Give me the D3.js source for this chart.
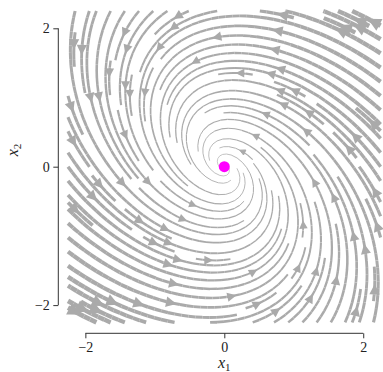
<!DOCTYPE html>
<html>
<head>
<meta charset="utf-8">
<script src="https://cdn.jsdelivr.net/npm/d3@7"></script>
<style>
  body { margin: 0; background: #fff; }
  svg { display: block; }
  text { font-family: "Liberation Serif", "DejaVu Serif", serif; fill: #222; }
</style>
</head>
<body>
<svg id="chart" width="383" height="372"></svg>
<script>
// linear system x' = A x, one array per row of A
const rowX1 = [-0.72, -0.95];
const rowX2 = [1.0, -0.1];
const gridRange = [-2.25, 2.25];   // extent of the sampled field
const xTicks = [-2, 0, 2];
const yTicks = [-2, 0, 2];
const equilibrium = [0, 0];

const gridN = 100;
const density = 1.5;
const lwMin = 0.5, lwMax = 5;
const minlength = 0.1, maxlength = 4.0;

const svg = d3.select('#chart');

const x = d3.scaleLinear().domain(gridRange).range([68, 380.6]);
const y = d3.scaleLinear().domain(gridRange).range([322.4, 11]);

// ---- sample the vector field on a regular grid
const nx = gridN, ny = gridN;
const gx = d3.range(nx).map(i => gridRange[0] + i * (gridRange[1] - gridRange[0]) / (nx - 1));
const gy = d3.range(ny).map(j => gridRange[0] + j * (gridRange[1] - gridRange[0]) / (ny - 1));
const dxg = gx[1] - gx[0], dyg = gy[1] - gy[0];

const UG = new Float64Array(nx * ny), VG = new Float64Array(nx * ny);
const SP = new Float64Array(nx * ny), LW = new Float64Array(nx * ny);
const speedData = new Float64Array(nx * ny);
for (let j = 0; j < ny; j++) {
  for (let i = 0; i < nx; i++) {
    const k = j * nx + i;
    const u = rowX1[0] * gx[i] + rowX1[1] * gy[j];
    const v = rowX2[0] * gx[i] + rowX2[1] * gy[j];
    speedData[k] = Math.hypot(u, v);
    UG[k] = u / dxg;
    VG[k] = v / dyg;
    SP[k] = Math.hypot(UG[k] / (nx - 1), VG[k] / (ny - 1));
  }
}
const maxSpeed = d3.max(speedData);
for (let k = 0; k < LW.length; k++) LW[k] = lwMin + (lwMax - lwMin) * speedData[k] / maxSpeed;

function interp(a, xi, yi) {
  const ix = Math.floor(xi), iy = Math.floor(yi);
  const xn = ix === nx - 1 ? ix : ix + 1;
  const yn = iy === ny - 1 ? iy : iy + 1;
  const xt = xi - ix, yt = yi - iy;
  const a0 = a[iy * nx + ix] * (1 - xt) + a[iy * nx + xn] * xt;
  const a1 = a[yn * nx + ix] * (1 - xt) + a[yn * nx + xn] * xt;
  return a0 * (1 - yt) + a1 * yt;
}

// ---- streamplot (same scheme as matplotlib)
const maskN = Math.floor(30 * density);
const g2m = (maskN - 1) / (nx - 1);
const mask = new Uint8Array(maskN * maskN);
let traj = [], cur = null;
const OUT = {}, TERM = {}, INVALID = {};

const pyRound = v => (Math.abs(v - Math.floor(v) - 0.5) < 1e-12) ? 2 * Math.round(v / 2) : Math.round(v);
const grid2mask = (xg, yg) => [pyRound(xg * g2m), pyRound(yg * g2m)];
const within = (xi, yi) => xi >= 0 && xi <= nx - 1 && yi >= 0 && yi <= ny - 1;

function markCell(xm, ym) {
  if (cur && cur[0] === xm && cur[1] === ym) return;
  if (mask[ym * maskN + xm] === 0) {
    traj.push(ym * maskN + xm);
    mask[ym * maskN + xm] = 1;
    cur = [xm, ym];
  } else throw INVALID;
}
function updateTrajectory(xg, yg) {
  if (!within(xg, yg)) throw INVALID;
  const [xm, ym] = grid2mask(xg, yg);
  markCell(xm, ym);
}

function forward(xi, yi) {
  if (!within(xi, yi)) throw OUT;
  const dsdt = interp(SP, xi, yi);
  if (dsdt === 0) throw TERM;
  return [interp(UG, xi, yi) / dsdt, interp(VG, xi, yi) / dsdt];
}
function backward(xi, yi) {
  const d = forward(xi, yi);
  return [-d[0], -d[1]];
}

function eulerStep(pts, f) {
  const [xi, yi] = pts[pts.length - 1];
  const [cx, cy] = f(xi, yi);
  const dsx = cx === 0 ? Infinity : cx < 0 ? xi / -cx : (nx - 1 - xi) / cx;
  const dsy = cy === 0 ? Infinity : cy < 0 ? yi / -cy : (ny - 1 - yi) / cy;
  const ds = Math.min(dsx, dsy);
  pts.push([xi + cx * ds, yi + cy * ds]);
  return ds;
}

function rk12(x0, y0, f) {
  const maxerror = 0.003;
  const maxds = Math.min(1 / maskN, 0.1);
  let ds = maxds, stotal = 0, xi = x0, yi = y0;
  const pts = [];
  while (true) {
    let k1, k2;
    try {
      if (within(xi, yi)) pts.push([xi, yi]); else throw OUT;
      k1 = f(xi, yi);
      k2 = f(xi + ds * k1[0], yi + ds * k1[1]);
    } catch (e) {
      if (e === OUT && pts.length) stotal += eulerStep(pts, f);
      break;
    }
    const dx1 = ds * k1[0], dy1 = ds * k1[1];
    const dx2 = ds * 0.5 * (k1[0] + k2[0]), dy2 = ds * 0.5 * (k1[1] + k2[1]);
    const err = Math.hypot((dx2 - dx1) / (nx - 1), (dy2 - dy1) / (ny - 1));
    if (err < maxerror) {
      xi += dx2; yi += dy2;
      try { updateTrajectory(xi, yi); } catch (e) { break; }
      if (stotal + ds > maxlength) break;
      stotal += ds;
    }
    ds = err === 0 ? maxds : Math.min(maxds, 0.85 * ds * Math.sqrt(maxerror / err));
  }
  return [stotal, pts];
}

function integrate(x0, y0) {
  traj = [];
  try {
    const [xm, ym] = grid2mask(x0, y0);
    markCell(xm, ym);
  } catch (e) { return null; }
  const b = rk12(x0, y0, backward);
  cur = grid2mask(x0, y0);
  const fw = rk12(x0, y0, forward);
  const stotal = b[0] + fw[0];
  if (stotal > minlength) return b[1].reverse().concat(fw[1].slice(1));
  traj.forEach(k => { mask[k] = 0; });
  return null;
}

function* startPoints(n) {
  let xfirst = 0, yfirst = 1, xlast = n - 1, ylast = n - 1;
  let xs = 0, ys = 0, dir = 'right';
  for (let i = 0; i < n * n; i++) {
    yield [xs, ys];
    if (dir === 'right') { xs += 1; if (xs >= xlast) { xlast -= 1; dir = 'up'; } }
    else if (dir === 'up') { ys += 1; if (ys >= ylast) { ylast -= 1; dir = 'left'; } }
    else if (dir === 'left') { xs -= 1; if (xs <= xfirst) { xfirst += 1; dir = 'down'; } }
    else { ys -= 1; if (ys <= yfirst) { yfirst += 1; dir = 'right'; } }
  }
}

const trajectories = [];
for (const [xm, ym] of startPoints(maskN)) {
  if (mask[ym * maskN + xm] === 0) {
    const t = integrate(xm / g2m, ym / g2m);
    if (t) trajectories.push(t);
  }
}

// ---- build segments and arrows in data space
const segments = [], arrows = [];
trajectories.forEach(t => {
  const tx = t.map(p => p[0] * dxg + gx[0]);
  const ty = t.map(p => p[1] * dyg + gy[0]);
  const widths = t.map(p => interp(LW, p[0], p[1]));
  for (let i = 0; i < t.length - 1; i++) {
    segments.push({x1: tx[i], y1: ty[i], x2: tx[i + 1], y2: ty[i + 1], w: widths[i]});
  }
  const s = d3.cumsum(d3.range(t.length - 1), i => Math.hypot(tx[i + 1] - tx[i], ty[i + 1] - ty[i]));
  const n = d3.bisectLeft(s, s[s.length - 1] / 2);
  arrows.push({
    tail: [tx[n], ty[n]],
    head: [(tx[n] + tx[n + 1]) / 2, (ty[n] + ty[n + 1]) / 2],
    w: widths[n]
  });
});

const lineColor = '#aaaaaa';

svg.append('g')
  .selectAll('line')
  .data(segments)
  .join('line')
    .attr('x1', d => x(d.x1)).attr('y1', d => y(d.y1))
    .attr('x2', d => x(d.x2)).attr('y2', d => y(d.y2))
    .attr('stroke', lineColor)
    .attr('stroke-width', d => d.w);

// arrow heads in the style of '-|>' (mutation scale 10pt at 100 dpi)
const headLen = 5.56, headHalf = 2.78;
const headDist = Math.hypot(headLen, headHalf);
const sinT = headHalf / headDist;
function arrowPath(d) {
  const x0 = x(d.tail[0]), y0 = y(d.tail[1]);
  const x1 = x(d.head[0]), y1 = y(d.head[1]);
  let ux = x1 - x0, uy = y1 - y0;
  const len = Math.hypot(ux, uy) || 1;
  ux /= len; uy /= len;
  const pad = 0.5 * d.w / sinT;
  const tipX = x1 - ux * pad, tipY = y1 - uy * pad;
  const bx = tipX - ux * headLen, by = tipY - uy * headLen;
  return `M${bx - uy * headHalf},${by + ux * headHalf}L${tipX},${tipY}L${bx + uy * headHalf},${by - ux * headHalf}Z`;
}
svg.append('g')
  .selectAll('path')
  .data(arrows)
  .join('path')
    .attr('d', arrowPath)
    .attr('fill', lineColor)
    .attr('stroke', lineColor)
    .attr('stroke-width', d => d.w)
    .attr('stroke-linejoin', 'miter');

// equilibrium point
svg.append('circle')
  .attr('cx', x(equilibrium[0]))
  .attr('cy', y(equilibrium[1]))
  .attr('r', 5.5)
  .attr('fill', '#ff00ff');

// ---- axes, trimmed to the tick range and offset from the data
const axisColor = '#333';
const xAxis = svg.append('g')
  .attr('transform', 'translate(0,333.3)')
  .call(d3.axisBottom(x).tickValues(xTicks).tickSize(5).tickPadding(4)
    .tickFormat(d => d3.format('')(d).replace('-', '\u2212')));
xAxis.select('.domain').attr('d', `M${x(xTicks[0])},0H${x(xTicks[xTicks.length - 1])}`);

const yAxis = svg.append('g')
  .attr('transform', 'translate(58.3,0)')
  .call(d3.axisLeft(y).tickValues(yTicks).tickSize(5).tickPadding(3.5)
    .tickFormat(d => d3.format('')(d).replace('-', '\u2212')));
yAxis.select('.domain').attr('d', `M0,${y(yTicks[0])}V${y(yTicks[yTicks.length - 1])}`);

[xAxis, yAxis].forEach(g => {
  g.select('.domain').attr('stroke', axisColor).attr('stroke-width', 1);
  g.selectAll('.tick line').attr('stroke', axisColor).attr('stroke-width', 1);
  g.selectAll('.tick text')
    .attr('font-family', '"Liberation Serif", serif')
    .attr('font-size', 14).attr('fill', '#222');
});

const xl = svg.append('text')
  .attr('x', x(0)).attr('y', 368)
  .attr('text-anchor', 'middle').attr('font-size', 16);
xl.append('tspan').attr('font-style', 'italic').text('x');
xl.append('tspan').attr('dy', 3).attr('font-size', 11).text('1');

const yl = svg.append('text')
  .attr('transform', 'translate(18,150) rotate(-90)')
  .attr('text-anchor', 'middle').attr('font-size', 16);
yl.append('tspan').attr('font-style', 'italic').text('x');
yl.append('tspan').attr('dy', 3).attr('font-size', 11).text('2');
</script>
</body>
</html>
